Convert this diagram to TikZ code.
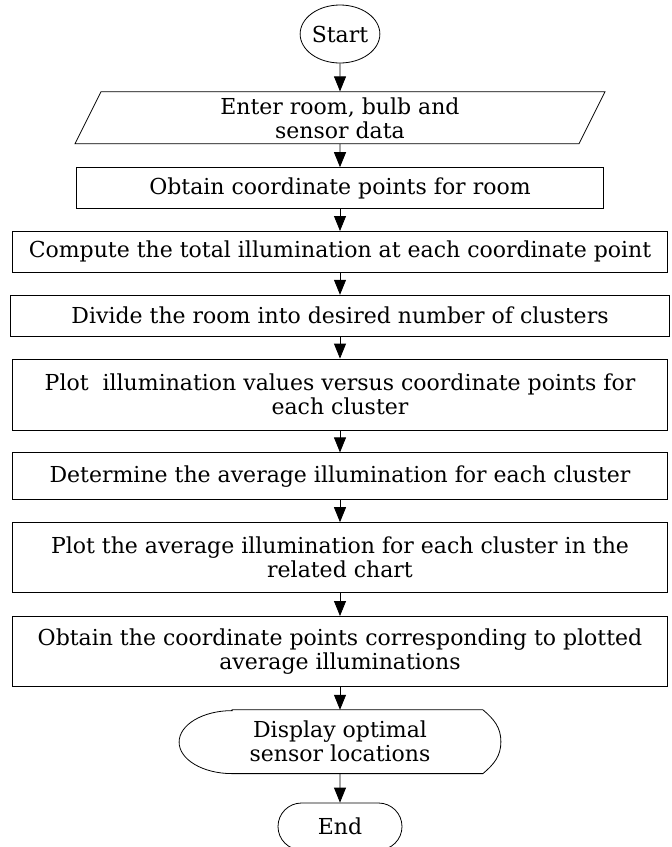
\documentclass[tikz,border=0pt]{standalone}
\usepackage{fontspec}
\setmainfont{DejaVu Serif}
\usetikzlibrary{positioning,shapes.geometric,shapes.misc,arrows.meta}
\tikzset{>={Triangle[length=15pt,width=12pt]},
every node/.style={font=\fontsize{22}{24}\selectfont,align=center,inner sep=0pt},
pr/.style={rectangle,draw,minimum width=655pt},
io/.style={trapezium,draw,trapezium left angle=57.6,trapezium right angle=122.4,
  trapezium stretches body=true,minimum width=530pt,minimum height=52pt},
term/.style={ellipse,draw,minimum width=76pt,minimum height=58pt},
stop/.style={rounded rectangle,draw,minimum width=124pt,minimum height=47pt},
disp/.style={minimum width=321pt,minimum height=63pt},
}

\begin{document}
\begin{tikzpicture}[line width=0.8pt,node distance=22pt]
	\useasboundingbox (0pt,0pt) rectangle (672pt,-847pt);
	\node[term] (start) at (340pt,-34pt) {Start};
	\node[io,below=28pt of start] (enter) {Enter room, bulb and\\sensor data};
	\node[pr,below=23pt of enter,minimum width=527pt,minimum height=41pt] (obtain) {Obtain coordinate points for room};
	\node[pr,below=of obtain,minimum height=41pt] (compute) {Compute the total illumination at each coordinate point};
	\node[pr,below=of compute,minimum width=659pt,minimum height=41pt] (divide) {Divide the room into desired number of clusters};
	\node[pr,below=of divide,minimum height=71pt] (plot) {Plot~ illumination values versus coordinate points for\\each cluster};
	\node[pr,below=of plot,minimum height=47pt] (avg) {Determine the average illumination for each cluster};
	\node[pr,below=of avg,minimum height=70pt] (plotavg) {Plot the average illumination for each cluster in the\\related chart};
	\node[pr,below=23pt of plotavg,minimum height=70pt] (coords) {Obtain the coordinate points corresponding to plotted\\average illuminations};
	\node[disp,below=23pt of coords] (show) {Display optimal\\sensor locations};
	\node[stop,below=29pt of show] (end) {End};

	% display symbol
	\draw ([xshift=53pt]show.north west) -- ([xshift=-18pt]show.north east)
		to[out=-40,in=90] (show.east) to[out=-90,in=40] ([xshift=-18pt]show.south east)
		-- ([xshift=53pt]show.south west)
		arc[start angle=270,end angle=90,x radius=53pt,y radius=31.5pt] -- cycle;

	\path[->]
	(start) edge (enter)
	(enter) edge (obtain)
	(obtain) edge (compute)
	(compute) edge (divide)
	(divide) edge (plot)
	(plot) edge (avg)
	(avg) edge (plotavg)
	(plotavg) edge (coords)
	(coords) edge (show)
	(show) edge (end)
	;
\end{tikzpicture}
\end{document}
